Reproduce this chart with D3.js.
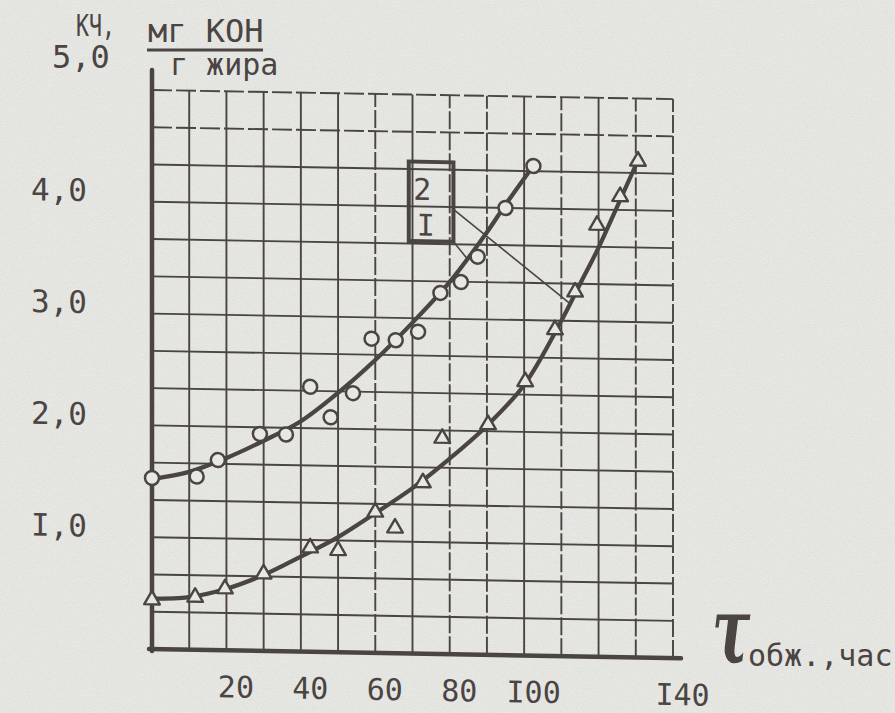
<!DOCTYPE html>
<html>
<head>
<meta charset="utf-8">
<script src="https://cdn.jsdelivr.net/npm/d3@7"></script>
<style>
html, body { margin: 0; padding: 0; background: #e7e7e4; }
svg { display: block; }
</style>
</head>
<body>
<div id="chart"></div>
<script>
// tick labels (typed as in the original: "I" stands for 1)
const xTickValues = [20, 40, 60, 80, 100, 140];
const xTickLabels = ['20', '40', '60', '80', 'I00', 'I40'];
const yTickValues = [1, 2, 3, 4];
const yTickLabels = ['I,0', '2,0', '3,0', '4,0'];

// curve 1 (triangles): time, h  /  acid number
const triTime = [0, 11.6, 19.6, 30, 42.5, 50, 60, 65.3, 72.8, 78, 90.3, 100.3, 108.3, 113.7, 119.6, 125.8, 130.6];
const triKch = [0.44, 0.47, 0.55, 0.69, 0.93, 0.91, 1.26, 1.12, 1.53, 1.93, 2.06, 2.45, 2.92, 3.26, 3.86, 4.12, 4.44];

// curve 2 (circles)
const cirTime = [0, 12, 17.7, 29, 36, 42.5, 48, 54, 59, 65.5, 71.5, 77.5, 83, 87.5, 95, 102.5];
const cirKch = [1.53, 1.55, 1.70, 1.94, 1.94, 2.37, 2.10, 2.32, 2.81, 2.80, 2.88, 3.23, 3.33, 3.56, 4.00, 4.38];

// hand-drawn smooth curves
const fit1Time = [0, 10, 20, 30, 40, 50, 60, 70, 80, 90, 100, 110, 115, 120, 125, 130.5];
const fit1Kch = [0.45, 0.47, 0.55, 0.68, 0.85, 1.03, 1.25, 1.48, 1.75, 2.05, 2.42, 3.00, 3.33, 3.66, 4.03, 4.44];
const fit2Time = [0, 10, 20, 30, 40, 50, 60, 70, 80, 90, 95, 102];
const fit2Kch = [1.52, 1.59, 1.72, 1.88, 2.06, 2.32, 2.62, 2.96, 3.33, 3.78, 4.03, 4.36];

const width = 895, height = 713;
const ink = '#4a4442';
const paper = '#e7e7e4';
const mono = "'DejaVu Sans Mono', 'Liberation Mono', monospace";

const x = d3.scaleLinear().domain([0, 140]).range([152, 673]);
const y = d3.scaleLinear().domain([0, 5]).range([649, 90]);

const svg = d3.select('#chart')
    .append('svg')
    .attr('width', width)
    .attr('height', height);

// paper grain
const defs = svg.append('defs');
const grain = defs.append('filter').attr('id', 'grain')
    .attr('x', 0).attr('y', 0).attr('width', '100%').attr('height', '100%');
grain.append('feTurbulence').attr('type', 'fractalNoise')
    .attr('baseFrequency', 0.8).attr('numOctaves', 2).attr('seed', 7);
grain.append('feColorMatrix').attr('type', 'matrix')
    .attr('values', '0 0 0 0 0.35  0 0 0 0 0.35  0 0 0 0 0.34  1.4 0 0 0 -0.55');

svg.append('rect').attr('width', width).attr('height', height).attr('fill', paper);
svg.append('rect').attr('width', width).attr('height', height)
    .attr('filter', 'url(#grain)').attr('opacity', 0.22);

// the scan is slightly skewed: right side sits lower
const x0 = x(0), y0 = y(0);
const plot = svg.append('g')
    .attr('transform', `translate(${x0},${y0}) skewY(1) translate(${-x0},${-y0})`);

// graph paper grid
const dashedCols = new Set([60, 80, 90, 110, 130, 140]);
plot.append('g')
    .selectAll('line')
    .data(d3.range(1, 15).map(i => i * 10))
    .join('line')
    .attr('x1', d => x(d)).attr('x2', d => x(d))
    .attr('y1', y(0)).attr('y2', y(5))
    .attr('stroke', ink)
    .attr('stroke-width', 1.9)
    .attr('stroke-dasharray', d => dashedCols.has(d) ? '18 3' : null);

plot.append('g')
    .selectAll('line')
    .data(d3.range(1, 16).map(i => i / 3))
    .join('line')
    .attr('x1', x(0)).attr('x2', x(140))
    .attr('y1', d => y(d)).attr('y2', d => y(d))
    .attr('stroke', ink)
    .attr('stroke-width', 1.9)
    .attr('stroke-dasharray', d => d > 4.5 ? '20 4' : null);

// thick axes
plot.append('line')
    .attr('x1', x(0)).attr('x2', x(0))
    .attr('y1', y(0) + 2).attr('y2', y(5) - 20)
    .attr('stroke', ink).attr('stroke-width', 4.5).attr('stroke-linecap', 'round');
plot.append('line')
    .attr('x1', x(0) - 3).attr('x2', x(140) + 8)
    .attr('y1', y(0)).attr('y2', y(0))
    .attr('stroke', ink).attr('stroke-width', 4.5).attr('stroke-linecap', 'round');

// tick labels
const yAxis = plot.append('g')
    .attr('transform', 'translate(87,0)')
    .call(d3.axisLeft(y).tickValues(yTickValues).tickFormat((d, i) => yTickLabels[i]).tickSize(0).tickPadding(0));
yAxis.select('.domain').remove();
yAxis.selectAll('text')
    .attr('dy', null)
    .attr('font-family', mono).attr('font-size', 31).attr('fill', ink);

const xAxis = plot.append('g')
    .attr('transform', `translate(9,${y(0)})`)
    .call(d3.axisBottom(x).tickValues(xTickValues).tickFormat((d, i) => xTickLabels[i]).tickSize(0).tickPadding(0));
xAxis.select('.domain').remove();
xAxis.selectAll('text')
    .attr('dy', null).attr('y', 47)
    .attr('font-family', mono).attr('font-size', 30).attr('fill', ink);

// leader lines from the label box
plot.append('line')
    .attr('x1', x(81)).attr('y1', y(3.98))
    .attr('x2', x(112.5)).attr('y2', y(3.15))
    .attr('stroke', ink).attr('stroke-width', 1.6);
plot.append('line')
    .attr('x1', x(81)).attr('y1', y(3.69))
    .attr('x2', x(84.7)).attr('y2', y(3.54))
    .attr('stroke', ink).attr('stroke-width', 1.6);

// fitted curves
const line = d3.line()
    .x(d => x(d[0]))
    .y(d => y(d[1]))
    .curve(d3.curveCatmullRom.alpha(0.5));

plot.append('path')
    .datum(d3.zip(fit1Time, fit1Kch))
    .attr('d', line)
    .attr('fill', 'none').attr('stroke', ink)
    .attr('stroke-width', 4.2).attr('stroke-linecap', 'round');
plot.append('path')
    .datum(d3.zip(fit2Time, fit2Kch))
    .attr('d', line)
    .attr('fill', 'none').attr('stroke', ink)
    .attr('stroke-width', 4.2).attr('stroke-linecap', 'round');

// markers
plot.append('g')
    .selectAll('circle')
    .data(d3.zip(cirTime, cirKch))
    .join('circle')
    .attr('cx', d => x(d[0]))
    .attr('cy', d => y(d[1]))
    .attr('r', 7)
    .attr('fill', paper).attr('stroke', ink).attr('stroke-width', 2.5);

const tri = d3.symbol().type(d3.symbolTriangle).size(105);
plot.append('g')
    .selectAll('path')
    .data(d3.zip(triTime, triKch))
    .join('path')
    .attr('transform', d => `translate(${x(d[0])},${y(d[1])})`)
    .attr('d', tri)
    .attr('fill', paper).attr('stroke', ink).attr('stroke-width', 2.4)
    .attr('stroke-linejoin', 'round');

// label box with curve numbers
plot.append('rect')
    .attr('x', x(69)).attr('y', y(4.40))
    .attr('width', x(81) - x(69)).attr('height', y(3.69) - y(4.40))
    .attr('fill', 'none').attr('stroke', ink).attr('stroke-width', 4);
plot.append('text')
    .attr('x', x(72.6)).attr('y', y(4.06))
    .attr('text-anchor', 'middle')
    .attr('font-family', mono).attr('font-size', 30).attr('fill', ink)
    .text('2');
plot.append('text')
    .attr('x', x(73.6)).attr('y', y(3.74))
    .attr('text-anchor', 'middle')
    .attr('font-family', mono).attr('font-size', 30).attr('fill', ink)
    .text('I');

// y axis title
svg.append('text')
    .attr('x', 52).attr('y', 68)
    .attr('font-family', mono).attr('font-size', 32).attr('fill', ink)
    .text('5,0');
svg.append('text')
    .attr('transform', 'translate(76,36) scale(0.72,1)')
    .attr('font-family', mono).attr('font-size', 30).attr('fill', ink)
    .text('КЧ,');
svg.append('text')
    .attr('x', 148).attr('y', 42)
    .attr('font-family', mono).attr('font-size', 32).attr('fill', ink)
    .text('мг КОН');
svg.append('line')
    .attr('x1', 147).attr('x2', 263).attr('y1', 50).attr('y2', 50)
    .attr('stroke', ink).attr('stroke-width', 3);
svg.append('text')
    .attr('x', 170).attr('y', 75)
    .attr('font-family', mono).attr('font-size', 30).attr('fill', ink)
    .text('г жира');

// x axis title
svg.append('text')
    .attr('transform', 'translate(712,662) scale(0.62,1)')
    .attr('font-family', "'DejaVu Serif', serif")
    .attr('font-style', 'italic').attr('font-weight', 'bold')
    .attr('font-size', 92).attr('fill', ink)
    .text('τ');
svg.append('text')
    .attr('x', 748).attr('y', 666)
    .attr('font-family', mono).attr('font-size', 30).attr('fill', ink)
    .text('обж.,час');
</script>
</body>
</html>
